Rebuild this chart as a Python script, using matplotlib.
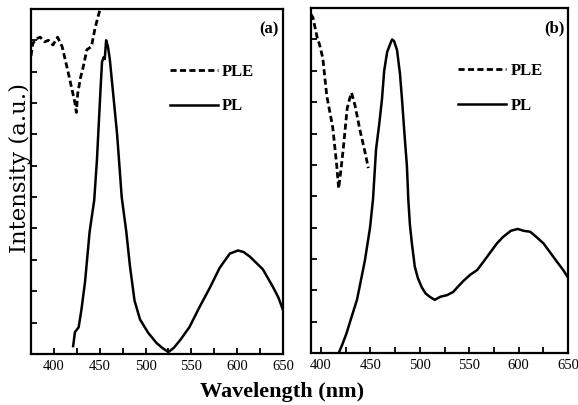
import numpy as np
import matplotlib.pyplot as plt

plt.rcParams['font.family'] = ['Liberation Serif', 'DejaVu Serif']

# panel (a) photoluminescence
plA_wl = [421, 423, 427, 430, 434, 439, 444, 447, 451, 452.5, 454, 455.5, 457, 459, 461,
          465, 469, 474, 479, 483, 488, 494, 503, 512, 518, 525, 531, 538, 548, 559,
          570, 581, 592, 601, 607, 614, 621, 628, 639, 645, 650]
plA_int = [0.25, 0.7, 0.85, 1.4, 2.3, 3.9, 4.9, 6.2, 8.5, 9.3, 9.45, 9.4, 10.0, 9.8, 9.4,
           8.2, 7.0, 5.0, 3.9, 2.8, 1.7, 1.1, 0.67, 0.35, 0.2, 0.06, 0.2, 0.45, 0.86, 1.5,
           2.1, 2.75, 3.2, 3.3, 3.25, 3.1, 2.9, 2.7, 2.14, 1.8, 1.4]

# panel (a) excitation
pleA_wl = [375, 377, 381, 385, 390, 394, 399, 404, 409, 415, 420, 423, 424.5, 426, 429,
           432, 436, 441, 445, 450]
pleA_int = [9.5, 9.9, 10.05, 10.1, 9.95, 10.0, 9.85, 10.1, 9.8, 9.05, 8.4, 8.0, 7.7, 8.3, 8.8,
            9.15, 9.7, 9.8, 10.4, 10.95]

# panel (b) photoluminescence
plB_wl = [418, 422, 426, 431, 436.5, 441, 444.6, 449.7, 452.7, 455.8, 459, 461.8, 464, 467,
          470, 472, 474, 477, 480, 482, 484.5, 487, 488.4, 490, 492, 495, 498, 502, 506, 510,
          515, 521, 527.6, 533.7, 538, 544, 551, 558, 564, 571, 578, 584, 592, 599, 605,
          611.6, 618, 625, 632, 639, 645, 650]
plB_int = [0.0, 0.3, 0.64, 1.15, 1.7, 2.4, 2.97, 4.0, 4.9, 6.5, 7.3, 8.1, 9.0, 9.6,
           9.85, 10.0, 9.95, 9.66, 8.9, 8.1, 7.0, 5.96, 4.9, 4.1, 3.5, 2.75, 2.4, 2.1, 1.9, 1.8,
           1.7, 1.8, 1.85, 1.95, 2.1, 2.3, 2.5, 2.65, 2.9, 3.2, 3.5, 3.7, 3.9, 3.96, 3.9,
           3.87, 3.7, 3.5, 3.2, 2.9, 2.65, 2.4]

# panel (b) excitation
pleB_wl = [390, 392, 396, 399, 402, 406, 409, 412, 416, 418, 420.5, 422.6, 426.6, 429, 431,
           434.5, 439.6, 444, 448]
pleB_int = [10.8, 10.7, 10.1, 9.8, 9.4, 8.2, 7.7, 7.2, 6.0, 5.25, 5.9, 6.5, 7.8, 8.1, 8.3,
            7.9, 7.1, 6.5, 5.9]

xticks = [400, 450, 500, 550, 600, 650]

fig = plt.figure(figsize=(5.78, 4.05), dpi=100)
axA = fig.add_axes([0.0536, 0.126, 0.436, 0.852])
axB = fig.add_axes([0.538, 0.128, 0.445, 0.852])

panels = [
    (axA, pleA_wl, pleA_int, plA_wl, plA_int, (375, 650), '(a)', 0.55),
    (axB, pleB_wl, pleB_int, plB_wl, plB_int, (390, 650), '(b)', 0.572),
]

for ax, ple_x, ple_y, pl_x, pl_y, xlim, tag, legx in panels:
    ax.plot(ple_x, ple_y, color='black', lw=2.0, ls=(0, (2.2, 1.2)), label='PLE')
    ax.plot(pl_x, pl_y, color='black', lw=1.8, label='PL')
    ax.set_xlim(*xlim)
    ax.set_ylim(0, 11)
    ax.set_xticks(xticks)
    ax.set_xticks(np.arange(400, 651, 25), minor=True)
    ax.set_yticks(range(1, 11))
    ax.set_yticklabels([])
    ax.tick_params(axis='x', which='both', direction='in', length=4, width=1.3,
                   labelsize=10.5, pad=4, top=False)
    ax.tick_params(axis='y', which='both', direction='in', length=4, width=1.3,
                   right=False)
    for sp in ax.spines.values():
        sp.set_linewidth(1.6)
    ax.text(0.945, 0.94, tag, transform=ax.transAxes, ha='center', va='center',
            fontsize=12, fontweight='bold')
    ax.legend(loc='center left', bbox_to_anchor=(legx, 0.767), frameon=False,
              prop={'weight': 'bold', 'size': 12}, handlelength=2.9,
              handletextpad=0.25, labelspacing=1.1, borderpad=0, borderaxespad=0)

fig.text(0.488, 0.032, 'Wavelength (nm)', ha='center', va='center',
         fontsize=16, fontweight='bold')
fig.text(0.034, 0.585, 'Intensity (a.u.)', ha='center', va='center',
         rotation=90, fontsize=16.5, family='DejaVu Serif')

fig.savefig('out.png', dpi=100)
